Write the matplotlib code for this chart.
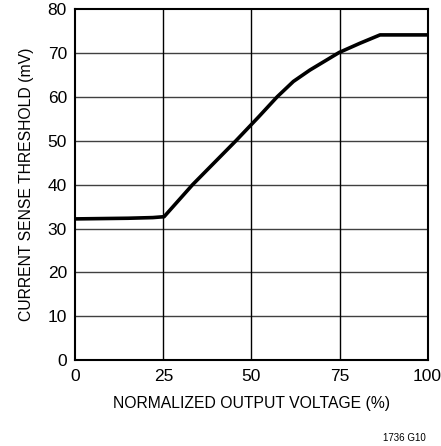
import matplotlib
matplotlib.use("Agg")
import matplotlib.pyplot as plt
from matplotlib import font_manager

names = {f.name for f in font_manager.fontManager.ttflist}
fam = ["Liberation Sans Narrow"] if "Liberation Sans Narrow" in names else ["Liberation Sans"]
plt.rcParams['font.family'] = fam + ["DejaVu Sans"]

x_vals = [0, 15, 22, 25.2, 33.3, 45.6, 52, 57.3, 61.9, 66.6, 74.9, 80.8, 86.5, 100]
y_vals = [32.2, 32.35, 32.5, 32.7, 40, 50, 55.4, 60, 63.5, 66.1, 70.1, 72.2, 74.1, 74.1]
x_ticks = [0, 25, 50, 75, 100]
y_ticks = [0, 10, 20, 30, 40, 50, 60, 70, 80]

fig = plt.figure(figsize=(4.41, 4.46), dpi=100)
ax = fig.add_axes([75.3/441, 1 - 360.3/446, 352.3/441, 351.3/446])
ax.plot(x_vals, y_vals, color="black", lw=2.6, solid_joinstyle="round", zorder=3)
ax.set_xlim(0, 100)
ax.set_ylim(0, 80)
ax.set_xticks(x_ticks)
ax.set_yticks(y_ticks)
for v in y_ticks[1:-1]:
    ax.axhline(v, color="#404040", lw=1.0, zorder=1)
for v in x_ticks[1:-1]:
    ax.axvline(v, color="black", lw=1.0, zorder=1)
for s in ax.spines.values():
    s.set_linewidth(1.5)
ax.tick_params(length=0, labelsize=12.5, pad=6)
ax.set_xlabel("NORMALIZED OUTPUT VOLTAGE (%)", fontsize=11.3, labelpad=9)
ax.set_ylabel("CURRENT SENSE THRESHOLD (mV)", fontsize=11.3, labelpad=10)
fig.text(426/441, 1 - 438/446, "1736 G10", ha="right", va="center", fontsize=7)
fig.savefig("out.png", dpi=100)
